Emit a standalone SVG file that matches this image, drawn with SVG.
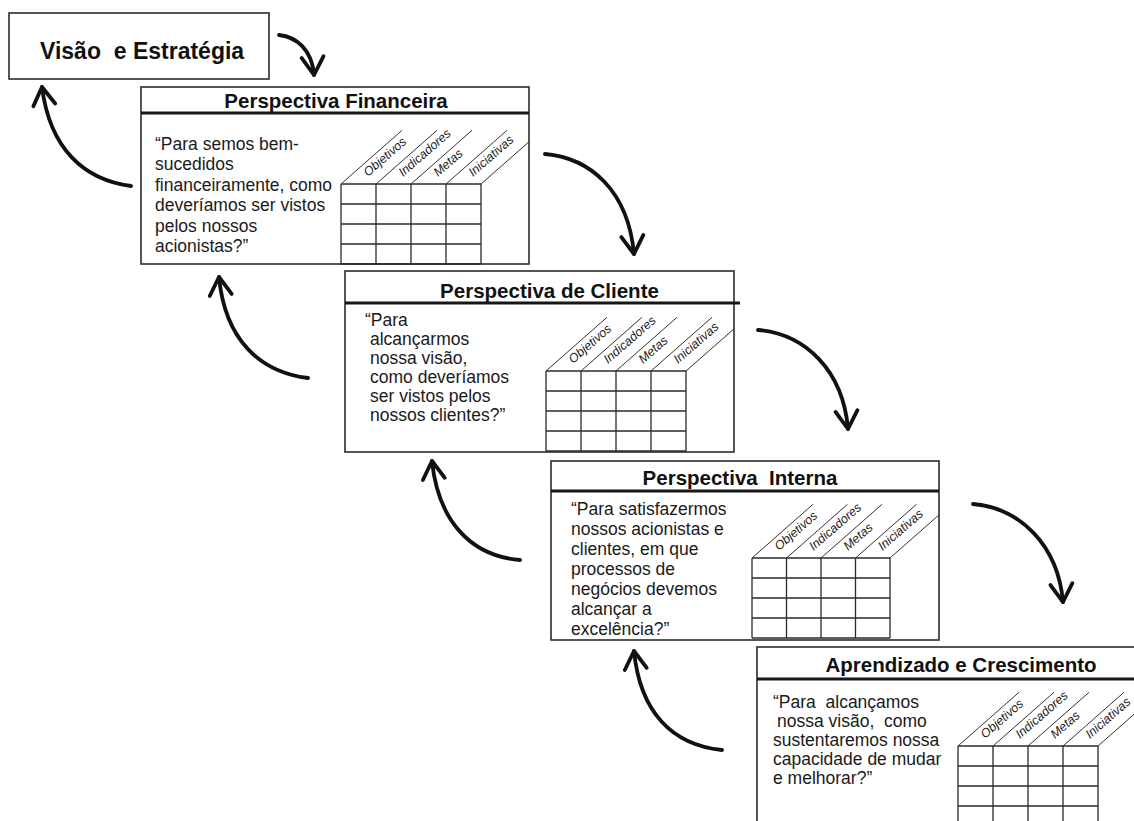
<svg xmlns="http://www.w3.org/2000/svg" width="1134" height="821" viewBox="0 0 1134 821">
  <style>
    .box { fill: #fff; stroke: #2b2b2b; stroke-width: 1.6; }
    .rule { stroke: #161616; stroke-width: 3; }
    .grid { fill: none; stroke: #2b2b2b; stroke-width: 1.3; }
    .diag { fill: none; stroke: #333; stroke-width: 1; }
    .title { font-family: "Liberation Sans", Arial, sans-serif; font-weight: bold; font-size: 20.5px; text-anchor: middle; fill: #111; }
    .head { font-family: "Liberation Sans", Arial, sans-serif; font-weight: bold; font-size: 23px; fill: #111; }
    .body { font-family: "Liberation Sans", Arial, sans-serif; font-size: 17.5px; fill: #1a1a1a; }
    .lbl { font-family: "Liberation Sans", Arial, sans-serif; font-style: italic; font-size: 12.5px; fill: #1a1a1a; }
    .arrow { fill: none; stroke: #111; stroke-width: 3.8; stroke-linecap: round; marker-end: url(#vhead); }
  </style>
  <defs>
    <marker id="vhead" markerUnits="userSpaceOnUse" viewBox="-24 -16 28 32" refX="0" refY="0" markerWidth="28" markerHeight="32" orient="auto" overflow="visible">
      <path d="M-18,-11 L0,0 L-18,11" fill="none" stroke="#111" stroke-width="3.8" stroke-linecap="round" stroke-linejoin="round"/>
    </marker>
  </defs>

  <rect width="1134" height="821" fill="#fff"/>

  <!-- top box -->
  <g id="node-visao">
    <rect class="box" x="9" y="13" width="260" height="66"/>
    <text class="head" x="40" y="59" xml:space="preserve">Visão  e Estratégia</text>
  </g>

  <!-- financial perspective -->
  <g id="node-financeira">
    <rect class="box" x="141" y="87" width="388" height="177"/>
    <line class="rule" x1="141" y1="113" x2="529" y2="113"/>
    <text class="title" x="336" y="108">Perspectiva Financeira</text>
    <text class="body">
      <tspan x="155" y="150">“Para semos bem-</tspan>
      <tspan x="155" y="170.4">sucedidos</tspan>
      <tspan x="155" y="190.8">financeiramente, como</tspan>
      <tspan x="155" y="211.2">deveríamos ser vistos</tspan>
      <tspan x="155" y="231.6">pelos nossos</tspan>
      <tspan x="155" y="252">acionistas?”</tspan>
    </text>
    <path class="grid" d="M341,184V264M376,184V264M411,184V264M446,184V264M481,184V264M341,184H481M341,204H481M341,224H481M341,244H481M341,264H481"/>
    <path class="diag" d="M341,184L402,130.3M376,184L437,130.3M411,184L472,130.3M446,184L507,130.3M481,184L529,141.8"/>
    <text class="lbl" transform="translate(368,177) rotate(-41)">Objetivos</text>
    <text class="lbl" transform="translate(403,177) rotate(-41)">Indicadores</text>
    <text class="lbl" transform="translate(438,177) rotate(-41)">Metas</text>
    <text class="lbl" transform="translate(473,177) rotate(-41)">Iniciativas</text>
  </g>

  <!-- customer perspective -->
  <g id="node-cliente">
    <rect class="box" x="345" y="271" width="389" height="181"/>
    <line class="rule" x1="345" y1="303" x2="740" y2="303"/>
    <text class="title" x="549.5" y="298">Perspectiva de Cliente</text>
    <text class="body">
      <tspan x="365" y="326">“Para</tspan>
      <tspan x="370" y="345">alcançarmos</tspan>
      <tspan x="370" y="364">nossa visão,</tspan>
      <tspan x="370" y="383">como deveríamos</tspan>
      <tspan x="370" y="401.5">ser vistos pelos</tspan>
      <tspan x="370" y="420.5">nossos clientes?”</tspan>
    </text>
    <path class="grid" d="M546,371V451M581,371V451M616,371V451M651,371V451M686,371V451M546,371H686M546,391H686M546,411H686M546,431H686M546,451H686"/>
    <path class="diag" d="M546,371L607,317.3M581,371L642,317.3M616,371L677,317.3M651,371L712,317.3M686,371L734,328.8"/>
    <text class="lbl" transform="translate(573,364) rotate(-41)">Objetivos</text>
    <text class="lbl" transform="translate(608,364) rotate(-41)">Indicadores</text>
    <text class="lbl" transform="translate(643,364) rotate(-41)">Metas</text>
    <text class="lbl" transform="translate(678,364) rotate(-41)">Iniciativas</text>
  </g>

  <!-- internal perspective -->
  <g id="node-interna">
    <rect class="box" x="551" y="461" width="388" height="179"/>
    <line class="rule" x1="551" y1="491" x2="939" y2="491"/>
    <text class="title" x="740" y="485" xml:space="preserve">Perspectiva  Interna</text>
    <text class="body">
      <tspan x="571" y="515">“Para satisfazermos</tspan>
      <tspan x="571" y="535">nossos acionistas e</tspan>
      <tspan x="571" y="555">clientes, em que</tspan>
      <tspan x="571" y="575">processos de</tspan>
      <tspan x="571" y="595">negócios devemos</tspan>
      <tspan x="571" y="615">alcançar a</tspan>
      <tspan x="571" y="635">excelência?”</tspan>
    </text>
    <path class="grid" d="M752,558V638M786.5,558V638M821,558V638M855.5,558V638M890,558V638M752,558H890M752,578H890M752,598H890M752,618H890M752,638H890"/>
    <path class="diag" d="M752,558L813,504.3M786.5,558L847.5,504.3M821,558L882,504.3M855.5,558L916.5,504.3M890,558L939,514.9"/>
    <text class="lbl" transform="translate(779,551) rotate(-41)">Objetivos</text>
    <text class="lbl" transform="translate(813.5,551) rotate(-41)">Indicadores</text>
    <text class="lbl" transform="translate(848,551) rotate(-41)">Metas</text>
    <text class="lbl" transform="translate(882.5,551) rotate(-41)">Iniciativas</text>
  </g>

  <!-- learning and growth perspective -->
  <g id="node-aprendizado">
    <rect class="box" x="757" y="647" width="382" height="184"/>
    <line class="rule" x1="757" y1="679" x2="1134" y2="679"/>
    <text class="title" x="961" y="672">Aprendizado e Crescimento</text>
    <text class="body" xml:space="preserve"><tspan x="773" y="708">“Para  alcançamos</tspan><tspan x="777" y="727">nossa visão,  como</tspan><tspan x="773" y="746">sustentaremos nossa</tspan><tspan x="773" y="765">capacidade de mudar</tspan><tspan x="773" y="784">e melhorar?”</tspan></text>
    <path class="grid" d="M958,746V826M993,746V826M1028,746V826M1063,746V826M1098,746V826M958,746H1098M958,766H1098M958,786H1098M958,806H1098"/>
    <path class="diag" d="M958,746L1019,692.3M993,746L1054,692.3M1028,746L1089,692.3M1063,746L1124,692.3M1098,746L1159,692.3"/>
    <text class="lbl" transform="translate(985,739) rotate(-41)">Objetivos</text>
    <text class="lbl" transform="translate(1020,739) rotate(-41)">Indicadores</text>
    <text class="lbl" transform="translate(1055,739) rotate(-41)">Metas</text>
    <text class="lbl" transform="translate(1090,739) rotate(-41)">Iniciativas</text>
  </g>

  <!-- curved flow arrows -->
  <g id="connectors">
    <path class="arrow" d="M279,35 C297,37 312,50 314,75"/>
    <path class="arrow" d="M131,186 C85,180 50,150 42,87"/>
    <path class="arrow" d="M545,154 C590,158 628,190 634,254"/>
    <path class="arrow" d="M308,378 C260,372 225,340 219,277"/>
    <path class="arrow" d="M758,330 C805,334 843,370 848,429"/>
    <path class="arrow" d="M520,560 C470,556 438,520 432,461"/>
    <path class="arrow" d="M973,504 C1020,508 1058,545 1063,602"/>
    <path class="arrow" d="M722,750 C672,745 640,712 634,651"/>
  </g>
</svg>
